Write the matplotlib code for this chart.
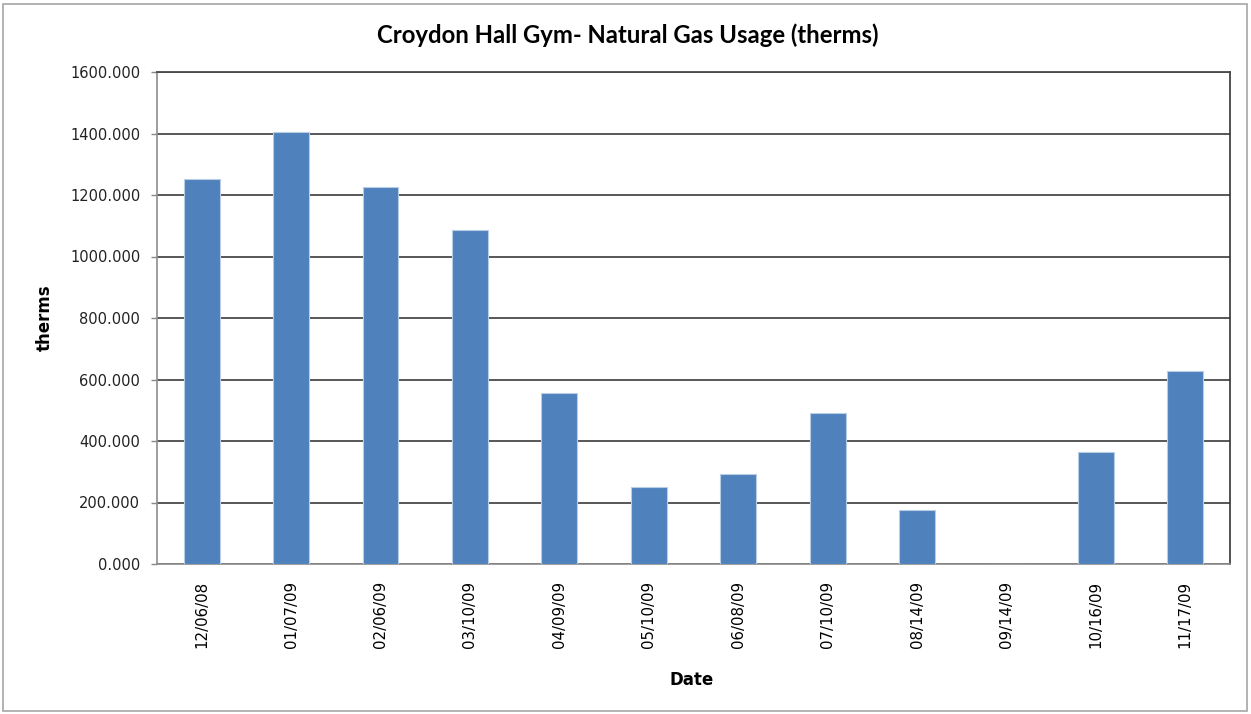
import matplotlib
matplotlib.use("Agg")
import matplotlib.pyplot as plt
from matplotlib.patches import Rectangle
from matplotlib.ticker import FormatStrFormatter

dates = ["12/06/08", "01/07/09", "02/06/09", "03/10/09", "04/09/09", "05/10/09",
         "06/08/09", "07/10/09", "08/14/09", "09/14/09", "10/16/09", "11/17/09"]
therms = [1253, 1405, 1225, 1087, 557, 250, 292, 491, 174, 0, 364, 629]
y_ticks = [0, 200, 400, 600, 800, 1000, 1200, 1400, 1600]


def main():
    fig = plt.figure(figsize=(12.51, 7.14), dpi=100)
    ax = fig.add_axes([157 / 1251, 150 / 714, (1230 - 157) / 1251, (564 - 72) / 714])

    x = list(range(len(dates)))
    ax.bar(x, therms, width=0.4, color="#4F81BD", edgecolor="#B9CDE5", linewidth=0.8, zorder=3)

    ax.set_xlim(-0.5, len(dates) - 0.5)
    ax.set_ylim(0, 1600)
    ax.set_yticks(y_ticks)
    ax.yaxis.set_major_formatter(FormatStrFormatter("%.3f"))
    ax.yaxis.grid(True, color="#4a4a4a", linewidth=1.3, zorder=1)

    ax.set_xticks(x)
    ax.set_xticklabels(dates, rotation=90, fontsize=10.8, family="DejaVu Sans")
    ax.tick_params(axis="x", length=0, pad=12)
    ax.tick_params(axis="y", length=4, width=1, color="#888888", pad=8, labelsize=10.5, labelcolor="#222222")

    for s in ["left", "bottom"]:
        ax.spines[s].set_color("#8c8c8c")
        ax.spines[s].set_linewidth(1.2)
    ax.spines["right"].set_color("#333333")
    ax.spines["right"].set_linewidth(1.2)
    ax.spines["top"].set_color("#4a4a4a")
    ax.spines["top"].set_linewidth(1.3)

    fig.text(628 / 1251, 1 - 35 / 714, "Croydon Hall Gym- Natural Gas Usage (therms)",
             ha="center", va="center", fontsize=17.2, family="Lato", fontweight="bold")
    fig.text(45 / 1251, 1 - 318 / 714, "therms", rotation=90, ha="center", va="center",
             fontsize=12, fontweight="bold", family="DejaVu Sans")
    fig.text(692 / 1251, 1 - 680 / 714, "Date", ha="center", va="center",
             fontsize=12, fontweight="bold", family="DejaVu Sans")

    # outer chart border
    fig.patches.append(Rectangle((3 / 1251, 3 / 714), 1244 / 1251, 707 / 714,
                                 transform=fig.transFigure, fill=False,
                                 edgecolor="#a6a6a6", linewidth=1.2))

    fig.savefig("out.png", dpi=100)


if __name__ == "__main__":
    main()
